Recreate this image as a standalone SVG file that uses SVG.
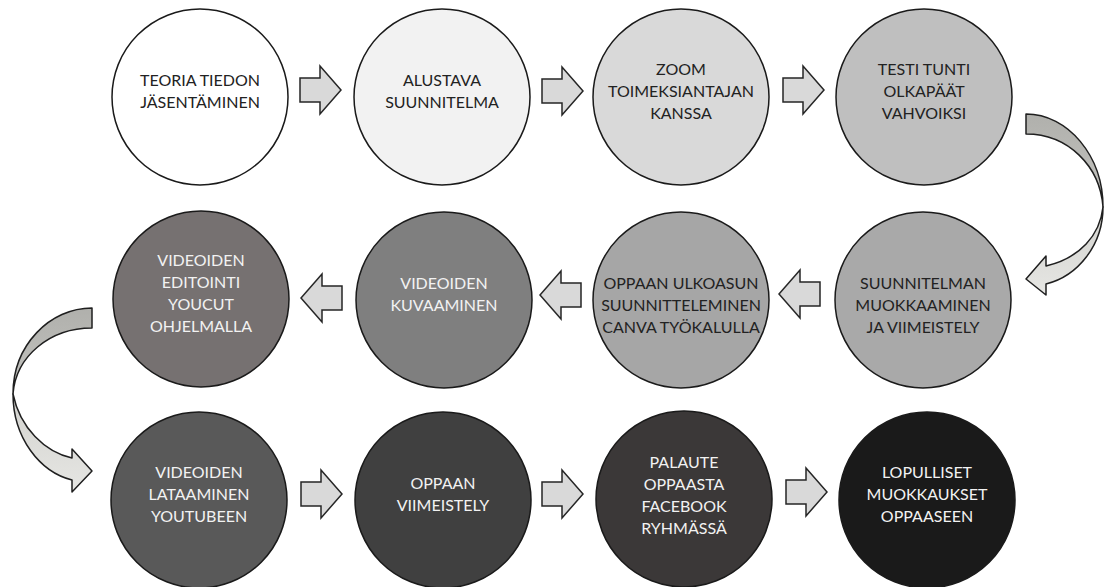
<svg xmlns="http://www.w3.org/2000/svg" width="1104" height="587" viewBox="0 0 1104 587">
  <defs>
    <style>
      .node circle { stroke: #1a1a1a; stroke-width: 1.5; }
      .node text { font-family: Lato, "Liberation Sans", sans-serif; font-size: 16px; text-anchor: middle; }
      .dark text { fill: #222222; }
      .light text { fill: #f2f2f2; }
      .step { fill: #d9d9d9; stroke: #262626; stroke-width: 1.5; stroke-linejoin: miter; }
      .bend { stroke: #1f1f1f; stroke-width: 1.5; stroke-linejoin: round; }
    </style>
    <!-- block arrow pointing right, origin at the tail middle -->
    <path id="arrowR" d="M0,-12 H20 V-24 L41,0 L20,24 V12 H0 Z"/>
    <linearGradient id="bandBack" x1="0" y1="0" x2="0" y2="1">
      <stop offset="0" stop-color="#b0b0ac"/>
      <stop offset="1" stop-color="#c4c4c0"/>
    </linearGradient>
    <linearGradient id="bandFront" x1="0" y1="0" x2="0" y2="1">
      <stop offset="0" stop-color="#d2d2ce"/>
      <stop offset="1" stop-color="#e6e6e3"/>
    </linearGradient>
  </defs>

  <rect width="1104" height="587" fill="#ffffff"/>

  <!-- connectors -->
  <g id="connectors">
    <!-- row 1, left to right -->
    <use href="#arrowR" class="step" x="300" y="90"/>
    <use href="#arrowR" class="step" x="542" y="91"/>
    <use href="#arrowR" class="step" x="783" y="90"/>
    <!-- turn from row 1 down to row 2 -->
    <path class="bend" fill="url(#bandBack)" d="M1026,114 C1068,114 1103,156 1103,207 C1100,166 1068,134 1026,134 Z"/>
    <path class="bend" fill="url(#bandFront)" d="M1103,207 C1103,245 1078,276 1046,284 L1046,295 L1026,279 L1046,256 L1046,266 C1080,258 1100,235 1103,207 Z"/>
    <!-- row 2, right to left -->
    <use href="#arrowR" class="step" transform="translate(820,294) scale(-1,1)"/>
    <use href="#arrowR" class="step" transform="translate(581,295) scale(-1,1)"/>
    <use href="#arrowR" class="step" transform="translate(342,298) scale(-1,1)"/>
    <!-- turn from row 2 down to row 3 -->
    <path class="bend" fill="url(#bandBack)" d="M92,308 C50,308 13,345 13,394 C16,356 50,328 92,328 Z"/>
    <path class="bend" fill="url(#bandFront)" d="M13,394 C13,438 40,472 72,480 L72,492 L92,471 L72,449 L72,458 C45,452 20,428 13,394 Z"/>
    <!-- row 3, left to right -->
    <use href="#arrowR" class="step" x="301" y="494"/>
    <use href="#arrowR" class="step" x="542" y="494"/>
    <use href="#arrowR" class="step" x="786" y="492"/>
  </g>

  <!-- row 1 -->
  <g id="n1" class="node dark">
    <circle cx="200" cy="97" r="88" fill="#ffffff"/>
    <text x="200" y="86">TEORIA TIEDON</text>
    <text x="200" y="108">JÄSENTÄMINEN</text>
  </g>
  <g id="n2" class="node dark">
    <circle cx="442" cy="97" r="88" fill="#f2f2f2"/>
    <text x="442" y="86">ALUSTAVA</text>
    <text x="442" y="108">SUUNNITELMA</text>
  </g>
  <g id="n3" class="node dark">
    <circle cx="681" cy="97" r="88" fill="#d9d9d9"/>
    <text x="681" y="75">ZOOM</text>
    <text x="681" y="97">TOIMEKSIANTAJAN</text>
    <text x="681" y="119">KANSSA</text>
  </g>
  <g id="n4" class="node dark">
    <circle cx="924" cy="97" r="88" fill="#bfbfbf"/>
    <text x="924" y="75">TESTI TUNTI</text>
    <text x="924" y="97">OLKAPÄÄT</text>
    <text x="924" y="119">VAHVOIKSI</text>
  </g>

  <!-- row 2 -->
  <g id="n5" class="node dark">
    <circle cx="923" cy="300" r="88" fill="#a9a9a9"/>
    <text x="923" y="289">SUUNNITELMAN</text>
    <text x="923" y="311">MUOKKAAMINEN</text>
    <text x="923" y="333">JA VIIMEISTELY</text>
  </g>
  <g id="n6" class="node dark">
    <circle cx="681" cy="300" r="88" fill="#a6a6a6"/>
    <text x="681" y="289">OPPAAN ULKOASUN</text>
    <text x="681" y="311">SUUNNITTELEMINEN</text>
    <text x="681" y="333">CANVA TYÖKALULLA</text>
  </g>
  <g id="n7" class="node light">
    <circle cx="444" cy="300" r="88" fill="#7f7f7f"/>
    <text x="444" y="289">VIDEOIDEN</text>
    <text x="444" y="311">KUVAAMINEN</text>
  </g>
  <g id="n8" class="node light">
    <circle cx="201" cy="299" r="88" fill="#767171"/>
    <text x="201" y="266">VIDEOIDEN</text>
    <text x="201" y="288">EDITOINTI</text>
    <text x="201" y="310">YOUCUT</text>
    <text x="201" y="332">OHJELMALLA</text>
  </g>

  <!-- row 3 -->
  <g id="n9" class="node light">
    <circle cx="199" cy="500" r="88" fill="#595959"/>
    <text x="199" y="478">VIDEOIDEN</text>
    <text x="199" y="500">LATAAMINEN</text>
    <text x="199" y="522">YOUTUBEEN</text>
  </g>
  <g id="n10" class="node light">
    <circle cx="443" cy="500" r="88" fill="#404040"/>
    <text x="443" y="489">OPPAAN</text>
    <text x="443" y="511">VIIMEISTELY</text>
  </g>
  <g id="n11" class="node light">
    <circle cx="684" cy="499" r="88" fill="#3b3838"/>
    <text x="684" y="468">PALAUTE</text>
    <text x="684" y="490">OPPAASTA</text>
    <text x="684" y="512">FACEBOOK</text>
    <text x="684" y="534">RYHMÄSSÄ</text>
  </g>
  <g id="n12" class="node light">
    <circle cx="927" cy="500" r="88" fill="#1a1a1a"/>
    <text x="927" y="478">LOPULLISET</text>
    <text x="927" y="500">MUOKKAUKSET</text>
    <text x="927" y="522">OPPAASEEN</text>
  </g>
</svg>
